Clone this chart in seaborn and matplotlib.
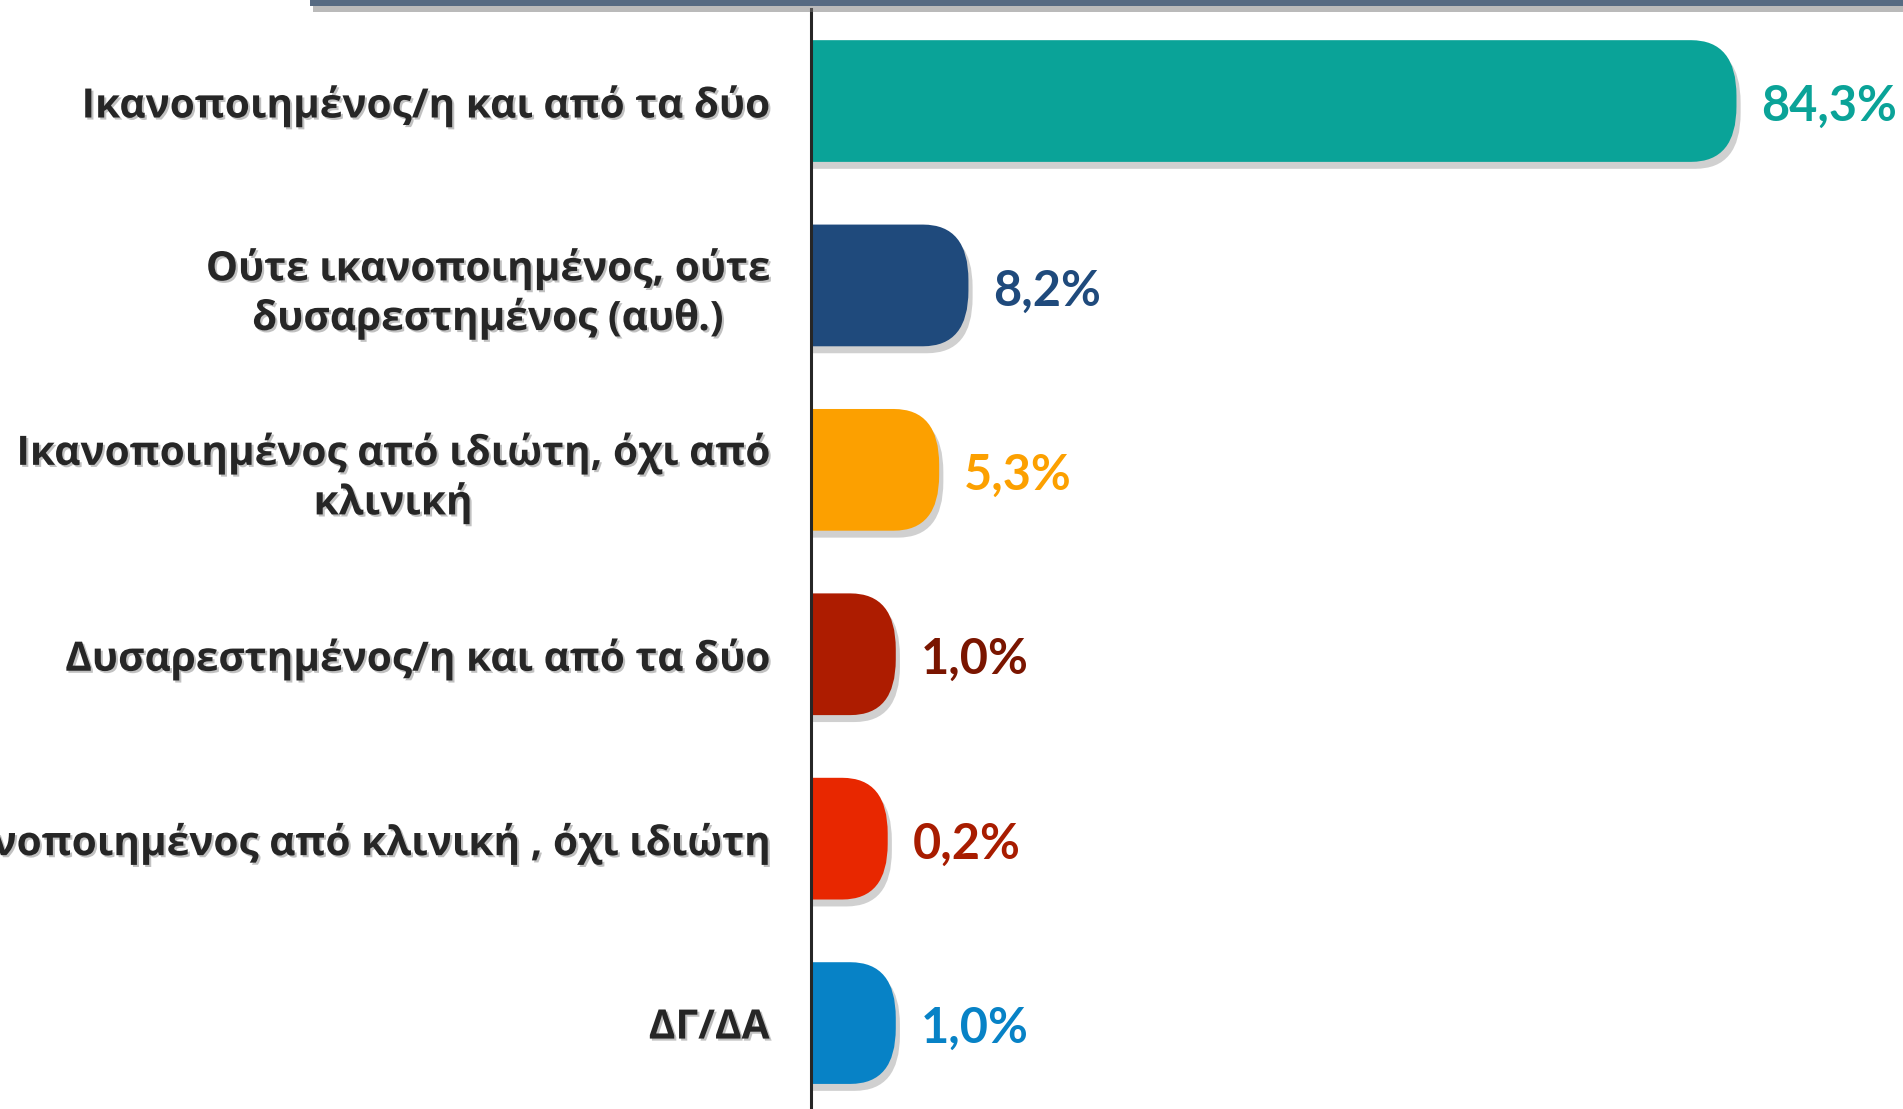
import numpy as np
import pandas as pd
import seaborn as sns
import matplotlib.pyplot as plt
from matplotlib.patches import FancyBboxPatch, Rectangle
import matplotlib.patheffects as pe

# Δεδομένα
κατηγορίες = [
    "Ικανοποιημένος/η και από τα δύο",
    "Ούτε ικανοποιημένος, ούτε\nδυσαρεστημένος (αυθ.)",
    "Ικανοποιημένος από ιδιώτη, όχι από\nκλινική",
    "Δυσαρεστημένος/η και από τα δύο",
    "Ικανοποιημένος από κλινική , όχι ιδιώτη",
    "ΔΓ/ΔΑ",
]
τιμές = [84.3, 8.2, 5.3, 1.0, 0.2, 1.0]
χρώματα_μπάρας = ["#0AA398", "#1F4A7C", "#FCA000", "#AD1C00", "#E82700", "#0782C6"]
χρώματα_ετικέτας = ["#0AA398", "#1F4A7C", "#FCA000", "#7A1500", "#A81C00", "#0782C6"]

df = pd.DataFrame({"κατηγορία": κατηγορίες, "τιμή": τιμές})

sns.set_theme(style="white")
plt.rcParams["font.family"] = ["Open Sans", "DejaVu Sans"]

fig = plt.figure(figsize=(19.03, 11.09), dpi=100)
ax = fig.add_axes([811 / 1903, 0, 1 - 811 / 1903, 1100 / 1109])

sns.barplot(data=df, x="τιμή", y="κατηγορία", hue="κατηγορία",
            palette=χρώματα_μπάρας, orient="h", width=0.66,
            legend=False, saturation=1, ax=ax)

ax.set_xlim(0, 108.2)
ax.set_ylim(5.466, -0.499)

# στρογγυλεμένες άκρες (όπως στο αρχικό γράφημα)
ΕΠΕΚΤΑΣΗ = 7.4
σκιά = [pe.SimplePatchShadow(offset=(3, -5), shadow_rgbFace="#8a8a8a", alpha=0.4), pe.Normal()]
for p in list(ax.patches):
    x0, y0, w, h = p.get_x(), p.get_y(), p.get_width(), p.get_height()
    c = p.get_facecolor()
    p.set_visible(False)
    box = FancyBboxPatch((-10, y0), w + ΕΠΕΚΤΑΣΗ + 10, h,
                         boxstyle="round,pad=0,rounding_size=4.5",
                         mutation_aspect=0.067, facecolor=c, edgecolor="none",
                         zorder=3)
    box.set_path_effects(σκιά)
    ax.add_patch(box)
    ax.annotate(f"{w:.1f}".replace(".", ",") + "%", xy=(w + ΕΠΕΚΤΑΣΗ, y0 + h / 2),
                xytext=(18, -4), textcoords="offset points", va="center", ha="left",
                fontsize=35, fontweight="bold", family=["Lato", "DejaVu Sans"],
                color=χρώματα_ετικέτας[int(round(y0 + h / 2))], zorder=4)

ax.set_xlabel("")
ax.set_ylabel("")
ax.set_xticks([])
ax.tick_params(axis="y", length=0, pad=30)
for t in ax.get_yticklabels():
    t.set_fontsize(29.2)
    t.set_fontweight("bold")
    t.set_color("#262626")
    t.set_multialignment("center")
    t.set_path_effects([pe.withSimplePatchShadow(offset=(1.5, -1.5), shadow_rgbFace="#999999", alpha=0.6)])

for s in ["top", "right", "bottom"]:
    ax.spines[s].set_visible(False)
ax.spines["left"].set_color("#262626")
ax.spines["left"].set_linewidth(2.2)
ax.spines["left"].set_zorder(5)

# λωρίδα στην κορυφή
fig.patches.append(Rectangle((310 / 1903, 1 - 6 / 1109), 1, 6 / 1109,
                             transform=fig.transFigure, facecolor="#566A82",
                             edgecolor="none",
                             path_effects=[pe.SimplePatchShadow(offset=(2, -4), shadow_rgbFace="#777777", alpha=0.5), pe.Normal()]))

fig.savefig("out.png", dpi=100)
